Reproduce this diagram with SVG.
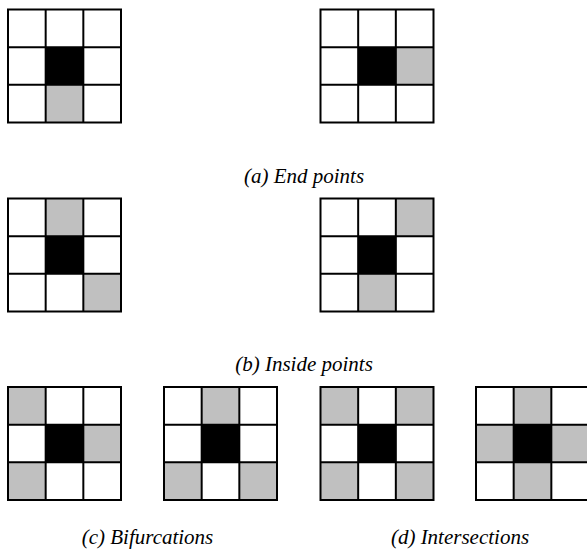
<svg xmlns="http://www.w3.org/2000/svg" xmlns:xlink="http://www.w3.org/1999/xlink" width="587" height="550" viewBox="0 0 587 550">
  <style>
    .g { fill: #c0c0c0; }
    .k { fill: #000000; }
    .lines { fill: none; stroke: #000; stroke-width: 2; }
    .cap { font-family: 'Liberation Serif', 'Times New Roman', serif; font-size: 21px; fill: #000; text-anchor: middle; font-style: italic; }
  </style>
  <defs>
    <g id="lines" class="lines">
      <rect x="0" y="0" width="113" height="113"/>
      <line x1="37.67" y1="0" x2="37.67" y2="113"/>
      <line x1="75.33" y1="0" x2="75.33" y2="113"/>
      <line x1="0" y1="37.67" x2="113" y2="37.67"/>
      <line x1="0" y1="75.33" x2="113" y2="75.33"/>
    </g>
    <rect id="c" width="37.67" height="37.67"/>
  </defs>
  <rect width="587" height="550" fill="#fff"/>

  <g id="end1" transform="translate(8,9.5)">
    <use xlink:href="#c" class="k" x="37.67" y="37.67"/>
    <use xlink:href="#c" class="g" x="37.67" y="75.33"/>
    <use xlink:href="#lines"/>
  </g>
  <g id="end2" transform="translate(320.5,9.5)">
    <use xlink:href="#c" class="k" x="37.67" y="37.67"/>
    <use xlink:href="#c" class="g" x="75.33" y="37.67"/>
    <use xlink:href="#lines"/>
  </g>
  <g id="inside1" transform="translate(8,198.5)">
    <use xlink:href="#c" class="k" x="37.67" y="37.67"/>
    <use xlink:href="#c" class="g" x="37.67" y="0"/>
    <use xlink:href="#c" class="g" x="75.33" y="75.33"/>
    <use xlink:href="#lines"/>
  </g>
  <g id="inside2" transform="translate(320.5,198.5)">
    <use xlink:href="#c" class="k" x="37.67" y="37.67"/>
    <use xlink:href="#c" class="g" x="75.33" y="0"/>
    <use xlink:href="#c" class="g" x="37.67" y="75.33"/>
    <use xlink:href="#lines"/>
  </g>
  <g id="bif1" transform="translate(8,387)">
    <use xlink:href="#c" class="k" x="37.67" y="37.67"/>
    <use xlink:href="#c" class="g" x="0" y="0"/>
    <use xlink:href="#c" class="g" x="75.33" y="37.67"/>
    <use xlink:href="#c" class="g" x="0" y="75.33"/>
    <use xlink:href="#lines"/>
  </g>
  <g id="bif2" transform="translate(164,387)">
    <use xlink:href="#c" class="k" x="37.67" y="37.67"/>
    <use xlink:href="#c" class="g" x="37.67" y="0"/>
    <use xlink:href="#c" class="g" x="0" y="75.33"/>
    <use xlink:href="#c" class="g" x="75.33" y="75.33"/>
    <use xlink:href="#lines"/>
  </g>
  <g id="int1" transform="translate(320.5,387)">
    <use xlink:href="#c" class="k" x="37.67" y="37.67"/>
    <use xlink:href="#c" class="g" x="0" y="0"/>
    <use xlink:href="#c" class="g" x="75.33" y="0"/>
    <use xlink:href="#c" class="g" x="0" y="75.33"/>
    <use xlink:href="#c" class="g" x="75.33" y="75.33"/>
    <use xlink:href="#lines"/>
  </g>
  <g id="int2" transform="translate(476,387)">
    <use xlink:href="#c" class="k" x="37.67" y="37.67"/>
    <use xlink:href="#c" class="g" x="37.67" y="0"/>
    <use xlink:href="#c" class="g" x="0" y="37.67"/>
    <use xlink:href="#c" class="g" x="75.33" y="37.67"/>
    <use xlink:href="#c" class="g" x="37.67" y="75.33"/>
    <use xlink:href="#lines"/>
  </g>

  <g id="captions">
    <text class="cap" x="304" y="183">(a) End points</text>
    <text class="cap" x="304" y="371">(b) Inside points</text>
    <text class="cap" x="147.5" y="544">(c) Bifurcations</text>
    <text class="cap" x="460" y="544">(d) Intersections</text>
  </g>
</svg>
